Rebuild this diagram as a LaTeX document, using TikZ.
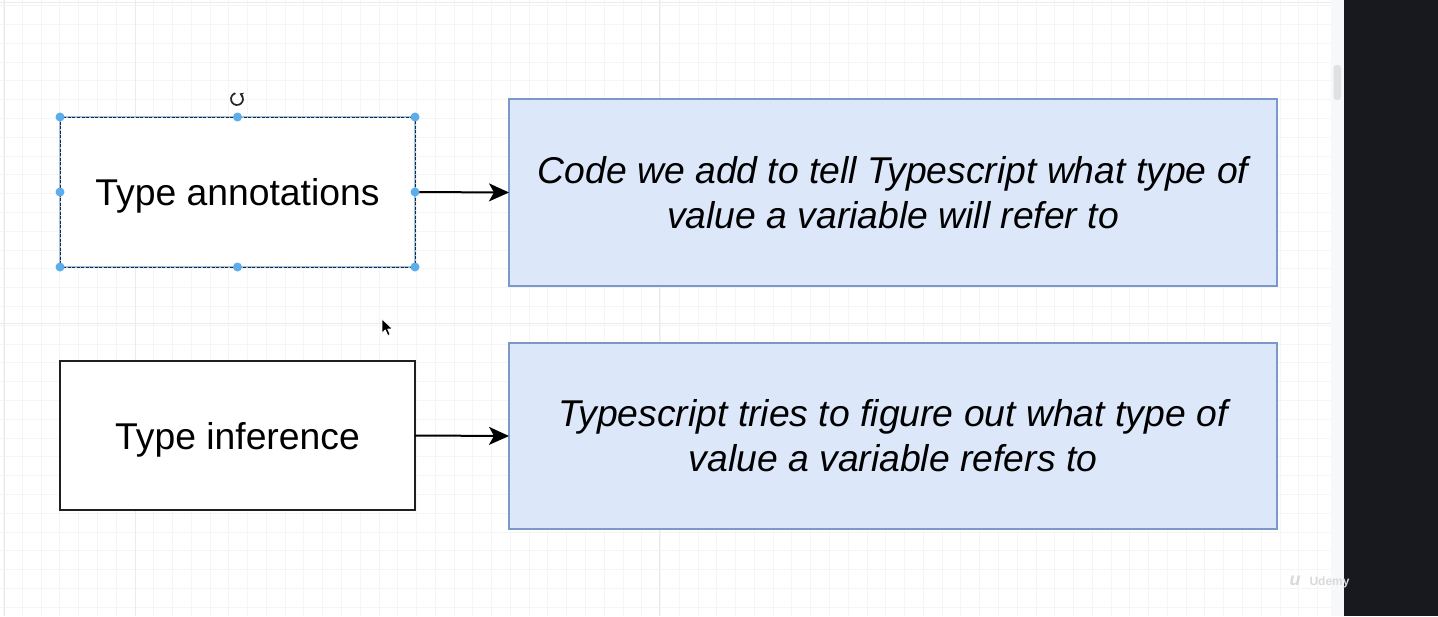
\documentclass[tikz,border=0pt]{standalone}
\usepackage{fontspec}
\setmainfont{Liberation Sans}
\usetikzlibrary{arrows.meta}
\definecolor{gridc}{HTML}{F5F5F5}
\definecolor{gridm}{HTML}{EBEBEB}
\definecolor{bluefill}{HTML}{DCE8FA}
\definecolor{blueline}{HTML}{7C98C9}
\definecolor{handle}{HTML}{5DADEC}
\definecolor{selline}{HTML}{9CC4E8}
\definecolor{darkbar}{HTML}{17191E}
\definecolor{scrollbg}{HTML}{F7F8FA}
\definecolor{thumb}{HTML}{E0E1E3}
\tikzset{
  bigtext/.style={font=\fontsize{37.3}{45}\selectfont},
  plainbox/.style={draw=black!88, line width=1.8pt, fill=white, minimum width=355pt, inner sep=0pt, outer sep=0pt, bigtext, text depth=0pt},
  descbox/.style={draw=blueline, line width=1.6pt, fill=bluefill, minimum width=768pt, inner sep=0pt, outer sep=0pt, align=center, font=\fontsize{37.3}{45}\selectfont\itshape},
  conn/.style={line width=2pt, -{Stealth[length=20pt, width=18pt, inset=5pt]}},
  hdl/.style={circle, fill=handle, inner sep=0pt, minimum size=9pt},
}
\begin{document}
\begin{tikzpicture}[x=1pt,y=-1pt]
\useasboundingbox (0,0) rectangle (1438,616);
\fill[white] (0,0) rectangle (1344,616);
% grid
\foreach \i in {0,...,70} {\draw[gridc, line width=0.9pt] ({3.6+\i*18.77},0) -- ({3.6+\i*18.77},616);}
\foreach \j in {0,...,32} {\draw[gridc, line width=0.9pt] (0,{5.6+\j*18.8}) -- (1331,{5.6+\j*18.8});}
\foreach \mx in {135,659} {\draw[gridm, line width=0.9pt] (\mx,0) -- (\mx,616);}
\draw[gridm, line width=0.9pt] (0,323.4) -- (1331,323.4);
\draw[gridm, line width=0.9pt] (0,2) -- (1331,2);
\draw[gridm, line width=0.9pt] (4.5,0) -- (4.5,616);
% scrollbar and dark side
\fill[scrollbg] (1331,0) rectangle (1344,616);
\fill[thumb, rounded corners=3pt] (1333.5,65) rectangle (1341,100);
\fill[darkbar] (1344,0) rectangle (1438,616);
% boxes
\node[plainbox, draw=none, minimum height=150pt] (ta) at (237.5,192) {Type annotations};
\draw[selline, line width=1.6pt] (ta.north west) rectangle (ta.south east);
\draw[black!85, line width=1pt, dash pattern=on 3pt off 1.5pt] (ta.north west) rectangle (ta.south east);
\node[descbox, minimum height=187pt] (d1) at (893,192.5) {Code we add to tell Typescript what type of\\value a variable will refer to};
\node[plainbox, minimum height=149pt] (ti) at (237.5,435.5) {Type inference};
\node[descbox, minimum height=186pt] (d2) at (893,436) {Typescript tries to figure out what type of\\value a variable refers to};
% connectors
\draw[conn] (ta.east) -- (d1.west);
\draw[conn] (ti.east) -- (d2.west);
% selection handles
\foreach \a in {north west,north,north east,west,east,south west,south,south east}
  {\node[hdl] at (ta.\a) {};}
% rotation handle
\coordinate (rot) at (237,99);
\draw[black!85, line width=1.7pt, -{Stealth[length=4pt, width=5.5pt]}] (rot) ++(-105:6) arc[start angle=-105, end angle=-425, radius=6];
% mouse cursor
\coordinate (cur) at (382,319);
\fill[black, draw=white, line width=0.6pt] (cur) -- ++(0,14) -- ++(3.3,-3.2) -- ++(2.6,5.6) -- ++(2.2,-1) -- ++(-2.5,-5.3) -- ++(4.6,-0.4) -- cycle;
% watermark
\node[text=black!15, font=\fontsize{12}{12}\selectfont\bfseries, anchor=west] (wm) at (1306,582) {Udemy};
\node[text=black!15, font=\fontsize{18}{18}\selectfont\bfseries\itshape] (wl) at (1295,581) {u};
\end{tikzpicture}
\end{document}
